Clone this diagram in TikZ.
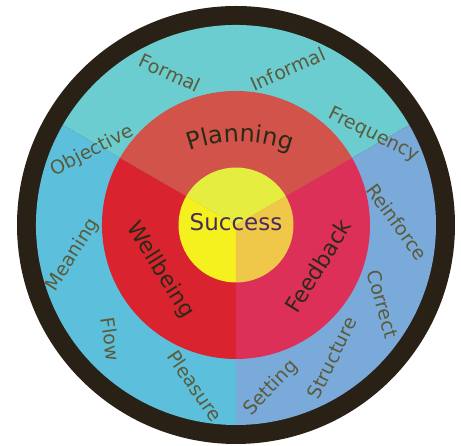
\documentclass[tikz,border=0pt]{standalone}
\usepackage{fontspec}
\setmainfont{DejaVu Sans}
\usetikzlibrary{decorations.text}
\definecolor{ringc}{HTML}{2A2116}
\definecolor{otop}{HTML}{6CCDD1}
\definecolor{oleft}{HTML}{5CC0DD}
\definecolor{oright}{HTML}{7AAADA}
\definecolor{rtop}{HTML}{D1534A}
\definecolor{rleft}{HTML}{D9232F}
\definecolor{rright}{HTML}{DC3058}
\definecolor{ytop}{HTML}{E5EE40}
\definecolor{yleft}{HTML}{F5F11F}
\definecolor{yright}{HTML}{EFC84A}
\definecolor{outtxt}{HTML}{5B5A3B}
\definecolor{intxt}{HTML}{2B2A18}
\definecolor{suctxt}{HTML}{4A2A5C}
\tikzset{
  outlabel/.style={text=outtxt, font=\fontsize{19}{19}\selectfont, inner sep=0pt},
  inlabel/.style={text=intxt, font=\fontsize{22}{22}\selectfont, inner sep=0pt},
}
\newcommand{\sector}[4]{\fill[#1] (0,0) -- (#2:#4) arc[start angle=#2, end angle=#3, radius=#4] -- cycle;}
\begin{document}
\begin{tikzpicture}
\useasboundingbox[fill=white] (-236pt,-221pt) rectangle (225pt,225pt);
\fill[ringc] (0,0) circle[radius=219pt];
\sector{otop}{30}{150}{200pt}
\sector{oleft}{150}{270}{200pt}
\sector{oright}{-90}{30}{200pt}
\sector{rtop}{30}{150}{134pt}
\sector{rleft}{150}{270}{134pt}
\sector{rright}{-90}{30}{134pt}
\sector{ytop}{30}{150}{57.5pt}
\sector{yleft}{150}{270}{57.5pt}
\sector{yright}{-90}{30}{57.5pt}
% outer labels
\node[outlabel, rotate=-25] (formal) at (-66pt,152pt) {Formal};
\node[outlabel, rotate=24] (informal) at (52pt,156pt) {Informal};
\node[outlabel, rotate=-26] (frequency) at (138pt,90pt) {Frequency};
\node[outlabel, rotate=27] (objective) at (-144pt,74pt) {Objective};
\node[outlabel, rotate=-54] (reinforce) at (161pt,3pt) {Reinforce};
\node[outlabel, rotate=-74] (correct) at (147pt,-79pt) {Correct};
\node[outlabel, rotate=64] (structure) at (96pt,-133pt) {Structure};
\node[outlabel, rotate=46] (setting) at (35pt,-163pt) {Setting};
\node[outlabel, rotate=-56] (pleasure) at (-41pt,-161pt) {Pleasure};
\node[outlabel, rotate=-82] (flow) at (-125pt,-114pt) {Flow};
\node[outlabel, rotate=58] (meaning) at (-163pt,-30pt) {Meaning};
% inner labels
\node[inlabel, rotate=-58] (wellbeing) at (-76pt,-45pt) {Wellbeing};
\node[inlabel, rotate=58] (feedback) at (82pt,-41pt) {Feedback};
\path[decorate, decoration={text along path, text align=center,
  text={|\fontsize{24}{24}\selectfont\color{intxt}|Planning}}]
  (4pt,-63pt) ++(118:146pt) arc[start angle=118, end angle=62, radius=146pt];
\node[text=suctxt, font=\fontsize{23}{23}\selectfont, inner sep=0pt] (success) at (0pt,3pt) {Success};
\end{tikzpicture}
\end{document}
